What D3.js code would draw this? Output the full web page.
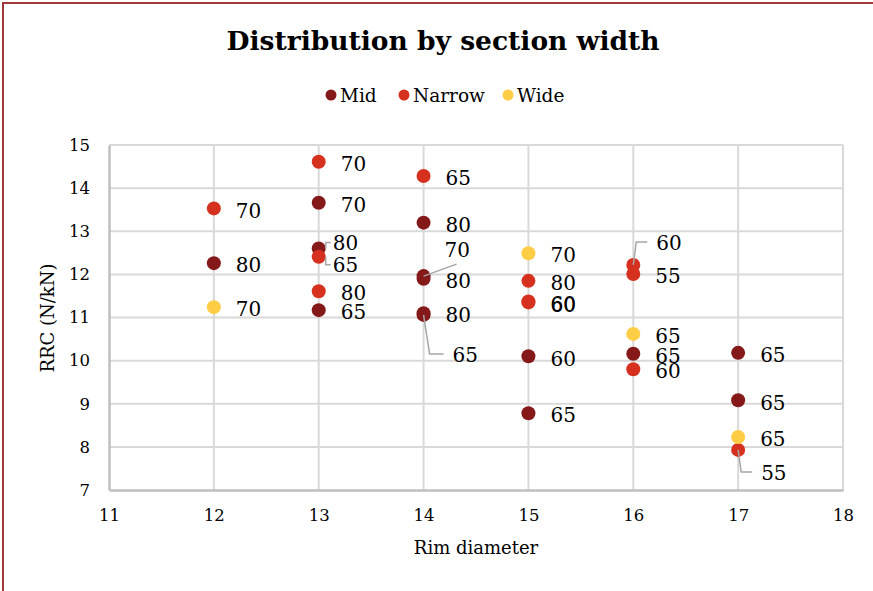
<!DOCTYPE html>
<html>
<head>
<meta charset="utf-8">
<script src="https://cdn.jsdelivr.net/npm/d3@7"></script>
<style>
  html, body { margin: 0; padding: 0; background: #fff; }
  svg { display: block; font-family: "DejaVu Serif", Georgia, serif; }
</style>
</head>
<body>
<svg id="chart" width="873" height="591"></svg>
<script>
// Rolling resistance coefficient by rim diameter, grouped by section width.
// Each point's label is the tyre aspect ratio.
const seriesNames = ["Mid", "Narrow", "Wide"];
const seriesColors = ["#85191a", "#d6301f", "#ffcd45"];

const midRim    = [12, 13, 13, 13, 14, 14, 14, 14, 14, 15, 15, 16, 17, 17];
const midRRC    = [12.26, 13.66, 12.60, 11.17, 13.20, 11.96, 11.90, 11.10, 11.06, 10.10, 8.78, 10.16, 10.18, 9.08];
const midAspect = [80, 70, 80, 65, 80, 70, 80, 80, 65, 60, 65, 65, 65, 65];

const narrowRim    = [12, 13, 13, 13, 14, 15, 15, 15, 16, 16, 16, 17];
const narrowRRC    = [13.53, 14.61, 12.41, 11.61, 14.28, 11.85, 11.37, 11.35, 12.22, 12.01, 9.80, 7.93];
const narrowAspect = [70, 70, 65, 80, 65, 80, 60, 60, 60, 55, 60, 55];

const wideRim    = [12, 15, 16, 17];
const wideRRC    = [11.24, 12.49, 10.62, 8.23];
const wideAspect = [70, 70, 65, 65];

const xTicks = [11, 12, 13, 14, 15, 16, 17, 18];
const yTicks = [7, 8, 9, 10, 11, 12, 13, 14, 15];

// Labels moved off their default spot, with the leader line style used.
const labelMoves = {
  "Mid:2":    { dx: 14, dy: -6,  leader: "bracket" },
  "Narrow:2": { dx: 14, dy: 8,   leader: "bracket" },
  "Mid:5":    { dx: 21, dy: -26, leader: "diag" },
  "Mid:8":    { dx: 29, dy: 40,  leader: "elbow", kx: 6 },
  "Narrow:8": { dx: 23, dy: -22, leader: "elbow", kx: 3 },
  "Narrow:11":{ dx: 23, dy: 23,  leader: "elbow", kx: 3 }
};

const series = [
  { name: seriesNames[0], color: seriesColors[0], rim: midRim, rrc: midRRC, aspect: midAspect },
  { name: seriesNames[1], color: seriesColors[1], rim: narrowRim, rrc: narrowRRC, aspect: narrowAspect },
  { name: seriesNames[2], color: seriesColors[2], rim: wideRim, rrc: wideRRC, aspect: wideAspect }
];

const W = 873, H = 591;
const margin = { top: 145, right: 30, bottom: 101, left: 109 };
const svg = d3.select("#chart");

// Chart frame
svg.append("rect")
  .attr("x", 3).attr("y", 3)
  .attr("width", W + 20).attr("height", H + 20)
  .attr("fill", "none").attr("stroke", "#a23a3a").attr("stroke-width", 2);

const x = d3.scaleLinear().domain([11, 18]).range([margin.left, W - margin.right]);
const y = d3.scaleLinear().domain([7, 15]).range([H - margin.bottom, margin.top]);

// Title
svg.append("text")
  .attr("x", 443).attr("y", 50)
  .attr("text-anchor", "middle")
  .attr("font-size", 26.5).attr("font-weight", "bold")
  .attr("fill", "#000")
  .text("Distribution by section width");

// Legend
const legendX = [331, 404, 508];
const legend = svg.append("g");
series.forEach((s, i) => {
  const g = legend.append("g").attr("transform", `translate(${legendX[i]},95)`);
  g.append("circle").attr("r", 5.5).attr("fill", s.color);
  g.append("text").attr("x", 9).attr("y", 6.5)
    .attr("font-size", 18.5).attr("fill", "#000").text(s.name);
});

// Gridlines
const grid = svg.append("g");
grid.selectAll("line.h").data(yTicks.slice(1)).join("line")
  .attr("x1", x(11)).attr("x2", x(18))
  .attr("y1", d => y(d)).attr("y2", d => y(d))
  .attr("stroke", "#d9d9d9").attr("stroke-width", 2);
grid.selectAll("line.v").data(xTicks.slice(1)).join("line")
  .attr("y1", y(7)).attr("y2", y(15))
  .attr("x1", d => x(d)).attr("x2", d => x(d))
  .attr("stroke", "#d9d9d9").attr("stroke-width", 2);

// Axes
const xAxis = svg.append("g")
  .attr("transform", `translate(0,${y(7)})`)
  .call(d3.axisBottom(x).tickValues(xTicks).tickSize(0).tickPadding(19).tickFormat(d3.format("d")));
const yAxis = svg.append("g")
  .attr("transform", `translate(${x(11)},0)`)
  .call(d3.axisLeft(y).tickValues(yTicks).tickSize(0).tickPadding(19).tickFormat(d3.format("d")));
[xAxis, yAxis].forEach(a => {
  a.select(".domain").attr("stroke", "#bfbfbf").attr("stroke-width", 2.5);
  a.selectAll("text").attr("font-size", 16.5).attr("fill", "#000")
    .attr("font-family", "DejaVu Serif, Georgia, serif");
});

// Axis titles
svg.append("text")
  .attr("x", 476).attr("y", 554)
  .attr("text-anchor", "middle").attr("font-size", 18).attr("fill", "#000")
  .text("Rim diameter");
svg.append("text")
  .attr("transform", `translate(54,318) rotate(-90)`)
  .attr("text-anchor", "middle").attr("font-size", 18).attr("fill", "#000")
  .text("RRC (N/kN)");

// Points
const pts = [];
series.forEach(s => {
  s.rim.forEach((r, i) => pts.push({ s, i, r, v: s.rrc[i], label: s.aspect[i] }));
});

const marks = svg.append("g");
marks.selectAll("circle").data(pts).join("circle")
  .attr("cx", d => x(d.r)).attr("cy", d => y(d.v))
  .attr("r", 7).attr("fill", d => d.s.color);

// Data labels and leader lines
const labelSize = 20;
const leaders = svg.append("g").attr("fill", "none")
  .attr("stroke", "#a6a6a6").attr("stroke-width", 1.5);
const labels = svg.append("g");

pts.forEach(d => {
  const cx = x(d.r), cy = y(d.v);
  const mv = labelMoves[`${d.s.name}:${d.i}`];
  const lx = cx + (mv ? mv.dx : 22);
  const ly = cy + (mv ? mv.dy : 2);
  labels.append("text")
    .attr("x", lx).attr("y", ly + labelSize * 0.36)
    .attr("font-size", labelSize).attr("fill", "#000")
    .text(d.label);
  if (!mv) return;
  let p;
  if (mv.leader === "bracket") {
    p = [[lx - 2, ly], [cx + 7, ly], [cx + 7, cy]];
  } else if (mv.leader === "diag") {
    p = [[cx, cy], [lx + 12, ly + 14]];
  } else {
    p = [[cx, cy], [cx + mv.kx, ly - 1], [lx - 9, ly - 1]];
  }
  leaders.append("path").attr("d", d3.line()(p));
});
</script>
</body>
</html>
